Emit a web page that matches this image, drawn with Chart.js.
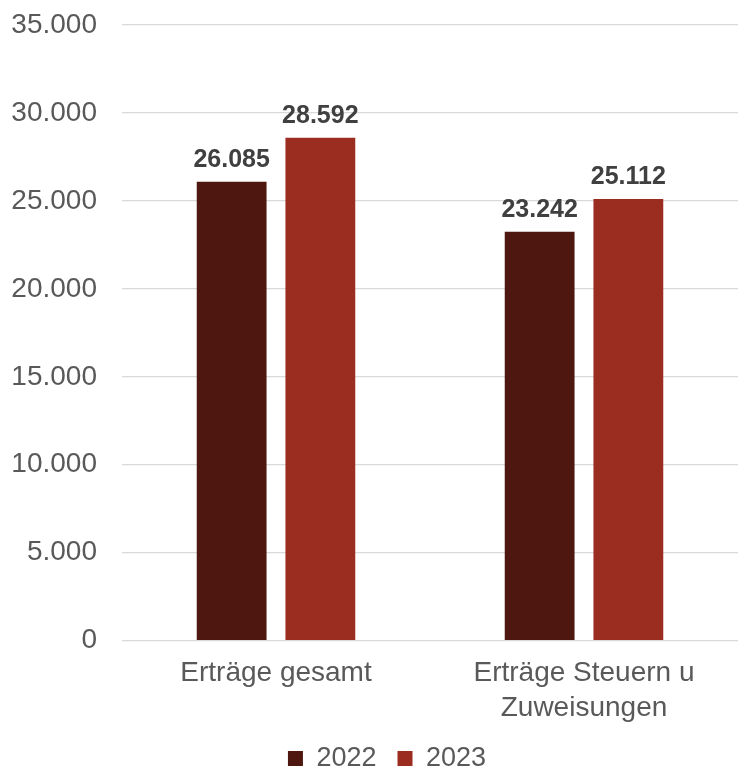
<!DOCTYPE html>
<html><head><meta charset="utf-8">
<script src="https://cdn.jsdelivr.net/npm/chart.js@4/dist/chart.umd.min.js"></script>
<style>html,body{margin:0;padding:0;background:#fff}#w{width:738px;height:769px}</style>
</head><body><div id="w"><canvas id="c"></canvas></div>
<script>
const categories = [["Erträge gesamt"], ["Erträge Steuern u", "Zuweisungen"]];
const seriesNames = ["2022", "2023"];
const values2022 = [26085, 23242];
const values2023 = [28592, 25112];
const colors = ["#4E1710", "#9B2D20"];
const fmt = v => v.toLocaleString('de-DE');
const FF = '"Liberation Sans", Arial, sans-serif';

const labelPlugin = {
  id: 'valLabels',
  afterLayout(chart) {
    if (chart.legend) {
      chart.legend.left = 18;
      chart.legend.right = chart.width + 18;
    }
  },
  afterDatasetsDraw(chart) {
    const ctx = chart.ctx;
    ctx.save();
    ctx.font = 'bold 25px ' + FF;
    ctx.fillStyle = '#404040';
    ctx.textAlign = 'center';
    ctx.textBaseline = 'alphabetic';
    chart.data.datasets.forEach((ds, i) => {
      chart.getDatasetMeta(i).data.forEach((bar, j) => {
        ctx.fillText(fmt(ds.data[j]), bar.x, bar.y - 15);
      });
    });
    ctx.restore();
  }
};

new Chart(document.getElementById('c'), {
  type: 'bar',
  data: {
    labels: categories,
    datasets: [
      { label: seriesNames[0], data: values2022, backgroundColor: colors[0] },
      { label: seriesNames[1], data: values2023, backgroundColor: colors[1] }
    ]
  },
  options: {
    responsive: true, maintainAspectRatio: false, animation: false,
    layout: { padding: { top: 25, right: 0, left: 0, bottom: -13 } },
    datasets: { bar: { categoryPercentage: 0.576, barPercentage: 0.787 } },
    scales: {
      y: {
        min: 0, max: 35000,
        afterFit: s => { s.width = 122; s.paddingTop = 0; s.paddingBottom = 0; },
        ticks: { stepSize: 5000, color: '#595959', padding: 25,
          font: { size: 28, family: FF, lineHeight: 1.0 },
          callback: v => fmt(v) },
        grid: { color: '#d9d9d9', drawTicks: false, lineWidth: 1.3 },
        border: { display: false }
      },
      x: {
        afterFit: s => { s.height = s.height - 17; },
        ticks: { color: '#595959', padding: 16,
          font: { size: 28, family: FF, lineHeight: 1.22 } },
        grid: { display: false, drawTicks: false },
        border: { display: false }
      }
    },
    plugins: {
      legend: { position: 'bottom',
        labels: { color: '#595959', boxWidth: 15, boxHeight: 15, padding: 21,
          font: { size: 27, family: FF } } },
      tooltip: { enabled: false }
    }
  },
  plugins: [labelPlugin]
});
</script></body></html>
